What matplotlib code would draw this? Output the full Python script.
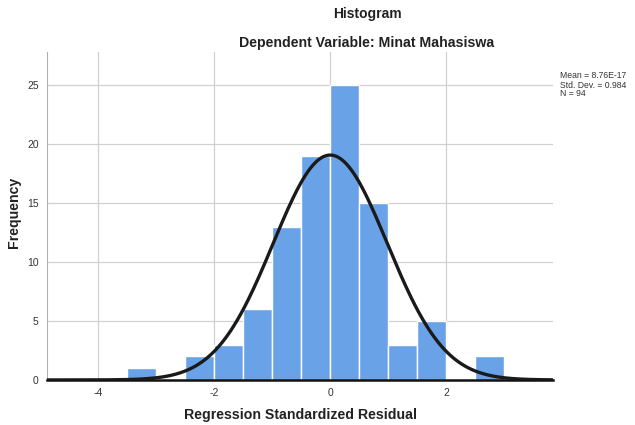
import numpy as np
import matplotlib
matplotlib.use("Agg")
import matplotlib.pyplot as plt

plt.rcParams['font.family'] = ['Liberation Sans', 'DejaVu Sans']

bin_edges = [-3.5, -3.0, -2.5, -2.0, -1.5, -1.0, -0.5, 0.0, 0.5, 1.0, 1.5, 2.0, 2.5, 3.0]
counts = [1, 0, 2, 3, 6, 13, 19, 25, 15, 3, 5, 0, 2]
mean = 8.76e-17
std = 0.984
n = 94
x_ticks = [-4, -2, 0, 2]
y_ticks = [0, 5, 10, 15, 20, 25]

fig = plt.figure(figsize=(6.35, 4.25), dpi=100)
ax = fig.add_axes([0.074, 0.106, 0.797, 0.772])

lefts = np.array(bin_edges[:-1])
widths = np.diff(bin_edges)
ax.bar(lefts, counts, width=widths, align='edge', color='#6aa2e7', edgecolor='white', linewidth=1.0, zorder=2)

xs = np.linspace(-4.88, 3.84, 400)
bw = 0.5
ys = n * bw * np.exp(-0.5 * ((xs - mean) / std) ** 2) / (std * np.sqrt(2 * np.pi))
ax.plot(xs, ys, color='#1a1a1a', linewidth=2.4, zorder=3)

ax.set_xlim(-4.88, 3.84)
ax.set_ylim(0, 27.8)
ax.set_xticks(x_ticks)
ax.set_yticks(y_ticks)
ax.set_xticklabels([str(t) for t in x_ticks])
ax.grid(True, color='#d0d0d0', linewidth=0.9, zorder=0)
ax.set_axisbelow(True)
for s in ['top', 'right']:
    ax.spines[s].set_visible(False)
ax.spines['left'].set_color('#b0b0b0')
ax.spines['bottom'].set_color('#111111')
ax.spines['bottom'].set_linewidth(1.8)
ax.tick_params(length=0, labelsize=7.5, colors='#333333', pad=6)

ax.set_xlabel('Regression Standardized Residual', fontsize=10.2, fontweight='bold', color='#222222', labelpad=7)
ax.set_ylabel('Frequency', fontsize=10.2, fontweight='bold', color='#222222')
ax.yaxis.set_label_coords(-0.051, 0.51)

fig.text(0.578, 0.966, 'Histogram', ha='center', va='center', fontsize=10, fontweight='bold', color='#222222')
fig.text(0.578, 0.900, 'Dependent Variable: Minat Mahasiswa', ha='center', va='center', fontsize=10.2, fontweight='bold', color='#222222')
fig.text(0.882, 0.800, 'Mean = 8.76E-17\nStd. Dev. = 0.984\nN = 94', ha='left', va='center', fontsize=6.2, color='#333333', linespacing=1.0)

fig.savefig('out.png', dpi=100)
